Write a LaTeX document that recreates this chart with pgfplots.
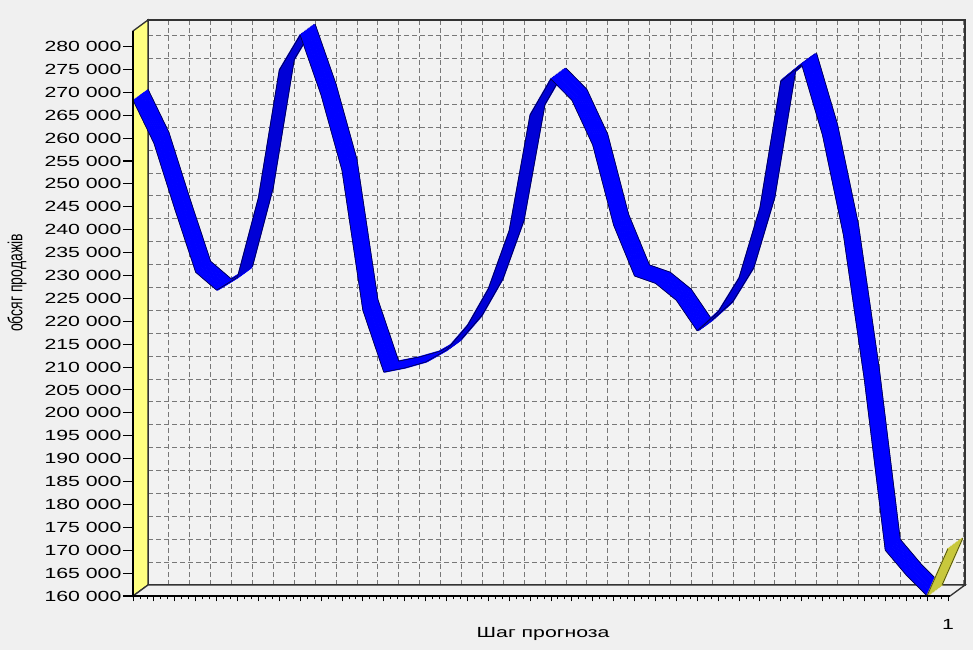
\documentclass[border=0pt]{standalone}
\usepackage{fontspec}
\setmainfont{Liberation Sans}
\usepackage{graphicx}
\usepackage{pgfplots}
\pgfplotsset{compat=1.18}
\usepackage{pgfplotstable}

\definecolor{bg}{RGB}{240,240,240}
\definecolor{wall}{RGB}{242,242,242}
\definecolor{ywall}{RGB}{255,255,128}
\definecolor{rib}{RGB}{0,0,255}
\definecolor{ribdark}{RGB}{0,0,215}
\definecolor{ribedge}{RGB}{0,0,70}
\definecolor{olive}{RGB}{200,200,60}
\definecolor{oliveedge}{RGB}{70,70,20}
\definecolor{gridc}{RGB}{120,120,120}

\pgfplotstableread{
x y
0 268300
1 258900
2 244500
3 230700
4 226800
5 229600
6 246900
7 274800
8 282500
9 269400
10 253000
11 222400
12 208900
13 209800
14 211100
15 213700
16 219000
17 227000
18 239700
19 265000
20 272900
21 268300
22 258500
23 241000
24 229900
25 228300
26 224600
27 217900
28 222000
29 229400
30 244700
31 272400
32 276100
33 260600
34 238800
35 207200
36 170000
37 164600
38 160000
}\sales
\pgfplotstableread{
x y
38 160000
39 170300
}\forecast

% ribbon: table, from, to, fill colour, edge colour
\newcommand{\ribbon}[5]{%
  \pgfplotsinvokeforeach{0.05,0.15,0.25,0.35,0.45,0.55,0.65,0.75,0.85,0.95}{%
    \addplot[draw=#4, line width=1.7pt, line join=round, restrict x to domain=#2:#3,
      xshift=##1*11.25pt, yshift=##1*8.25pt] table[x=x,y=y] {#1};
  }
  \addplot[draw=#5, line width=0.5pt, line join=round, restrict x to domain=#2:#3] table[x=x,y=y] {#1};
  \addplot[draw=#5, line width=0.5pt, line join=round, restrict x to domain=#2:#3,
    xshift=11.25pt, yshift=8.25pt] table[x=x,y=y] {#1};
}

\def\yt{160000,165000,170000,175000,180000,185000,190000,195000,200000,205000,210000,215000,220000,225000,230000,235000,240000,245000,250000,255000,260000,265000,270000,275000,280000}

\begin{document}
\begin{tikzpicture}
\fill[bg] (-99.75pt,-40.5pt) rectangle (630pt,447pt);

% back wall
\begin{axis}[
  at={(11.25pt,8.25pt)}, anchor=south west,
  width=612.75pt, height=423.75pt, scale only axis,
  xmin=0, xmax=39.1, ymin=160000, ymax=283400,
  xtick={0,...,39}, ytick/.expanded={\yt},
  scaled x ticks=false, scaled y ticks=false,
  xticklabels={}, yticklabels={}, major tick length=0pt,
  grid=major,
  major grid style={gridc, line width=0.6pt, dash pattern=on 3.5pt off 2.5pt},
  axis line style={black!80, line width=1.2pt},
  axis background/.style={fill=wall},
]
\end{axis}

% front plane
\begin{axis}[
  at={(0pt,0pt)}, anchor=south west,
  width=612.75pt, height=423.75pt, scale only axis,
  xmin=0, xmax=39.1, ymin=160000, ymax=283400,
  clip=false, axis on top,
  axis x line*=bottom, axis y line*=left,
  axis line style={line width=2.2pt, black},
  tick align=outside,
  ytick/.expanded={\yt},
  xtick={0,...,39}, minor x tick num=2,
  major tick length=7.5pt,
  xtick style={/pgfplots/major tick length=4pt, /pgfplots/minor tick length=2.5pt, black, line width=0.6pt},
  ytick style={black, line width=0.8pt},
  scaled x ticks=false, scaled y ticks=false,
  tick label style={font=\fontsize{11pt}{13pt}\selectfont, inner sep=0pt},
  yticklabel={\scalebox{1.45}[1]{\pgfmathprintnumber[fixed,precision=0,1000 sep={~},assume math mode=true]{\tick}}},
  yticklabel style={anchor=east, xshift=-1pt},
  xticklabel={\ifnum\ticknum=39 \scalebox{1.45}[1]{1}\fi},
  xticklabel style={anchor=north, yshift=-10pt},
  xlabel={\scalebox{1.45}[1]{Шаг прогноза}},
  xlabel style={at={(axis description cs:0.502,-0.067)}, anchor=center, font=\fontsize{11pt}{13pt}\selectfont},
  ylabel={\scalebox{1}[1.45]{обсяг продажів}},
  ylabel style={at={(axis description cs:-0.142,0.554)}, anchor=center, font=\fontsize{10.5pt}{12pt}\selectfont},
]
% left (yellow) wall and floor
\filldraw[fill=ywall, draw=black!80, line width=1pt]
  (rel axis cs:0,0) -- (rel axis cs:0,1) -- ([shift={(11.25pt,8.25pt)}]rel axis cs:0,1)
  -- ([shift={(11.25pt,8.25pt)}]rel axis cs:0,0) -- cycle;
\filldraw[fill=bg, draw=black!80, line width=1pt]
  (rel axis cs:0,0) -- (rel axis cs:1,0) -- ([shift={(11.25pt,8.25pt)}]rel axis cs:1,0)
  -- ([shift={(11.25pt,8.25pt)}]rel axis cs:0,0) -- cycle;

\ribbon{\sales}{0}{5}{rib}{ribedge}
\ribbon{\sales}{5}{8}{ribdark}{ribedge}
\ribbon{\sales}{8}{15}{rib}{ribedge}
\ribbon{\sales}{15}{20}{ribdark}{ribedge}
\ribbon{\sales}{20}{27}{rib}{ribedge}
\ribbon{\sales}{27}{32}{ribdark}{ribedge}
\ribbon{\sales}{32}{38}{rib}{ribedge}
\ribbon{\forecast}{38}{39}{olive}{oliveedge}
\end{axis}

\pgfresetboundingbox
\useasboundingbox (-99.75pt,-40.5pt) rectangle (630pt,447pt);
\end{tikzpicture}
\end{document}
